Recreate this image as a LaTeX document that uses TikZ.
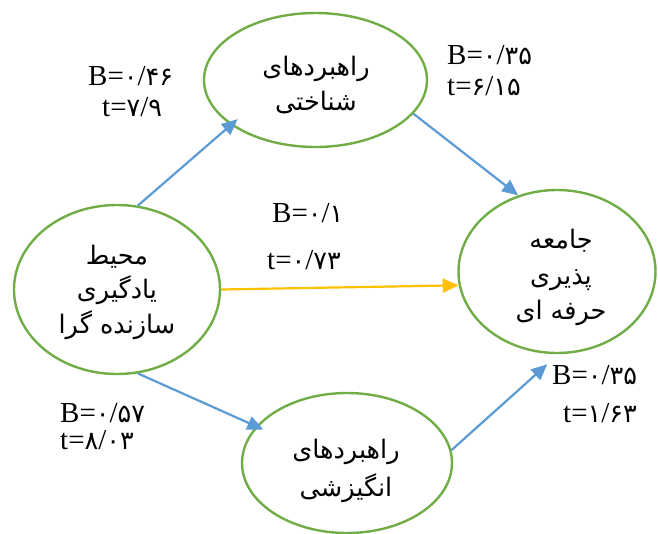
\documentclass[tikz,border=0pt]{standalone}
\usepackage{fontspec}
\setmainfont{Liberation Serif}
\newfontfamily\fafont[Script=Arabic]{DejaVu Sans}
\newfontfamily\digfont{DejaVu Sans}
\TeXXeTstate=1
\usetikzlibrary{shapes.geometric,arrows.meta}
\definecolor{egreen}{HTML}{70AD47}
\definecolor{ablue}{HTML}{5B9BD5}
\definecolor{ayellow}{HTML}{FFC000}
\newcommand\pd[1]{{\digfont\fontsize{25.5}{28}\selectfont #1}}
\tikzset{
  ell/.style={ellipse, draw=egreen, line width=2.4pt, inner sep=0pt},
  fatext/.style={align=center, font=\fafont\fontsize{25.5}{35}\selectfont, inner sep=0pt},
  lab/.style={anchor=west, inner sep=0pt, font=\fontsize{29}{30}\selectfont},
  barrow/.style={draw=ablue, line width=2.2pt, -{Triangle[length=16pt,width=14pt]}},
  yarrow/.style={draw=ayellow, line width=2.2pt, -{Triangle[length=16pt,width=14pt]}}
}
\begin{document}
\begin{tikzpicture}[x=1pt,y=-1pt]
\useasboundingbox (0,0) rectangle (658,533);
% ellipses
\node[ell, minimum width=223pt, minimum height=134pt] (cog) at (315.5,80) {};
\node[ell, minimum width=206pt, minimum height=169pt] (env) at (117,289.5) {};
\node[ell, minimum width=197pt, minimum height=163pt] (soc) at (557,271.5) {};
\node[ell, minimum width=210pt, minimum height=140pt] (mot) at (347,463) {};
% texts
\node[fatext] (cogt) at (316,85) {\beginR راهبردهای\endR\\\beginR شناختی\endR};
\node[fatext, font=\fafont\fontsize{25.5}{34.5}\selectfont] (envt) at (117,292) {\beginR محیط\endR\\\beginR یادگیری\endR\\\beginR سازنده گرا\endR};
\node[fatext, font=\fafont\fontsize{25.5}{35.5}\selectfont] (soct) at (561,277.5) {\beginR جامعه\endR\\\beginR پذیری\endR\\\beginR حرفه ای\endR};
\node[fatext, font=\fafont\fontsize{25.5}{38}\selectfont] (mott) at (346,471) {\beginR راهبردهای\endR\\\beginR انگیزشی\endR};
% connectors
\draw[barrow, shorten >=-9pt] (env.76) -- (cog.208);
\draw[barrow] (cog.-19) -- (soc.117);
\draw[yarrow] (env.0) -- (soc.188);
\draw[barrow, shorten >=-8pt] (env.-76) -- (mot.158);
\draw[barrow, shorten >=15pt] (mot.7) -- (soc.271);
% labels
\node[lab] (b1) at (88,76) {B=\pd{۰}/\pd{۴۶}};
\node[lab] (t1) at (102,107) {t=\pd{۷}/\pd{۹}};
\node[lab] (b2) at (447,55) {B=\pd{۰}/\pd{۳۵}};
\node[lab] (t2) at (447,86) {t=\pd{۶}/\pd{۱۵}};
\node[lab] (b3) at (272,213) {B=\pd{۰}/\pd{۱}};
\node[lab] (t3) at (267,260) {t=\pd{۰}/\pd{۷۳}};
\node[lab] (b4) at (60,413) {B=\pd{۰}/\pd{۵۷}};
\node[lab] (t4) at (60,440) {t=\pd{۸}/\pd{۰۳}};
\node[lab] (b5) at (552,375) {B=\pd{۰}/\pd{۳۵}};
\node[lab] (t5) at (563,413) {t=\pd{۱}/\pd{۶۳}};
\end{tikzpicture}
\end{document}
